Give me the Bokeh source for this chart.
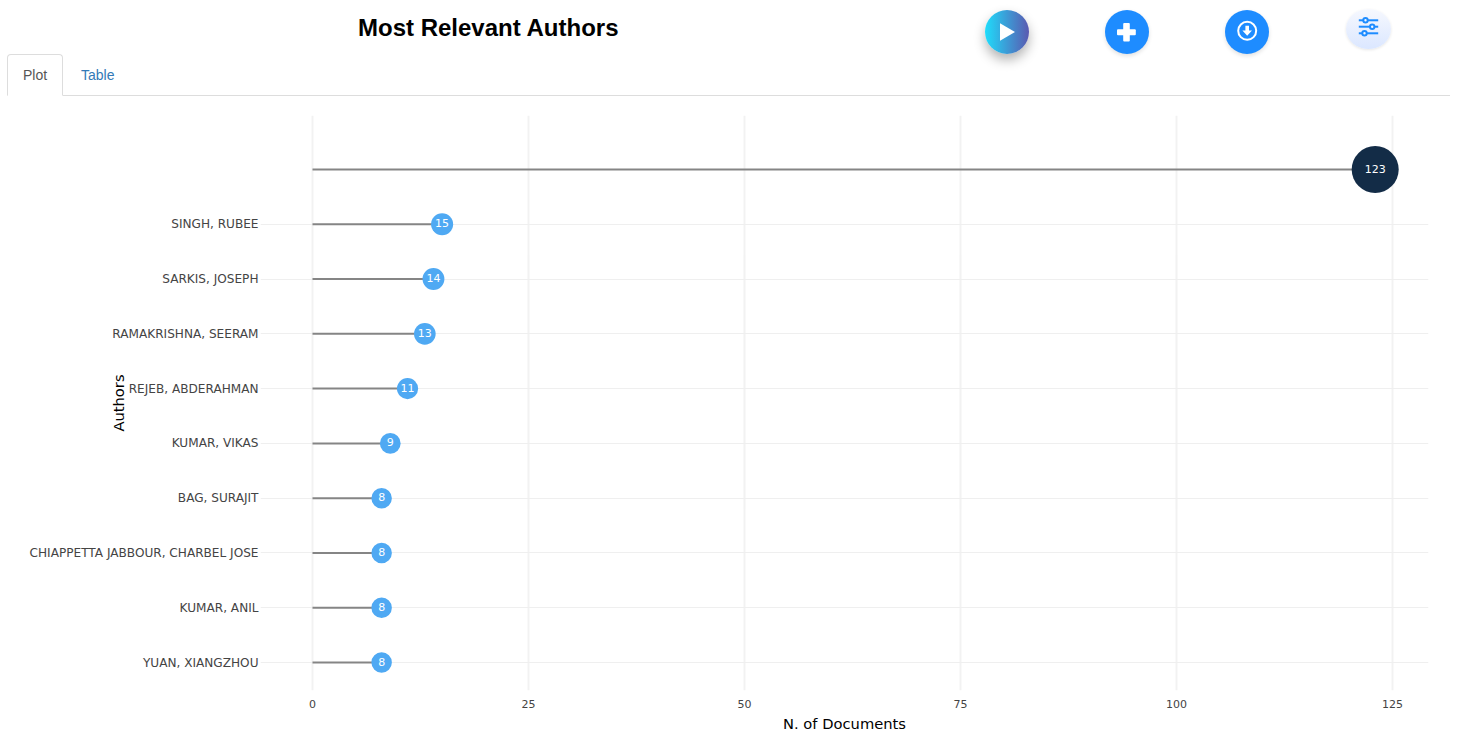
from bokeh.plotting import figure
from bokeh.layouts import column
from bokeh.models import ColumnDataSource, Div, FixedTicker, Range1d
from bokeh.core.properties import value
from bokeh.embed import file_html
from bokeh.resources import INLINE

# ---------- data ----------
authors = ["", "SINGH, RUBEE", "SARKIS, JOSEPH", "RAMAKRISHNA, SEERAM", "REJEB, ABDERAHMAN",
           "KUMAR, VIKAS", "BAG, SURAJIT", "CHIAPPETTA JABBOUR, CHARBEL JOSE", "KUMAR, ANIL", "YUAN, XIANGZHOU"]
documents = [123, 15, 14, 13, 11, 9, 8, 8, 8, 8]
x_ticks = [0, 25, 50, 75, 100, 125]

title_text = "Most Relevant Authors"
tab_labels = ["Plot", "Table"]
x_title = "N. of Documents"
y_title = "Authors"


# ---------- header (title, tabs, buttons) ----------
def btn(cx, cy, w, h, bg, shadow, icon):
    return (f'<div style="position:absolute;left:{cx - w / 2}px;top:{cy - h / 2}px;width:{w}px;height:{h}px;'
            f'border-radius:50%;background:{bg};box-shadow:{shadow};">'
            f'<svg width="{w}" height="{h}" viewBox="0 0 {w} {h}" style="display:block">{icon}</svg></div>')


play = '<path d="M15 13.3 L30 22 L15 30.7 Z" fill="#fff"/>'
plus = ('<rect x="18.2" y="13" width="6.6" height="18.5" rx="1" fill="#fff"/>'
        '<rect x="12" y="19.3" width="18.8" height="6" rx="1" fill="#fff"/>')
down = ('<circle cx="22.2" cy="20.8" r="9" fill="none" stroke="#fff" stroke-width="2"/>'
        '<path d="M20.4 15.8 h3.6 v4.6 h3 L22.2 25.8 L17.4 20.4 h3 Z" fill="#fff"/>')
sliders = ('<g stroke="#1e8cff" stroke-width="2" fill="#f4f7ff">'
           '<line x1="12.8" y1="11.3" x2="32.2" y2="11.3"/><line x1="12.8" y1="17.7" x2="32.2" y2="17.7"/>'
           '<line x1="12.8" y1="24.3" x2="32.2" y2="24.3"/>'
           '<circle cx="19.5" cy="11.3" r="2.2"/><circle cx="26.2" cy="17.7" r="2.2"/><circle cx="18.5" cy="24.3" r="2.2"/></g>')

header_html = f'''
<div style="position:relative;width:1450px;height:100px;font-family:'Liberation Sans',Helvetica,Arial,sans-serif;">
  <div style="position:absolute;left:358px;top:13px;font-size:24px;font-weight:bold;color:#000;line-height:30px;white-space:nowrap;">{title_text}</div>
  <div style="position:absolute;left:7px;top:95px;width:1443px;height:1px;background:#dddddd;"></div>
  <div style="position:absolute;left:7px;top:54px;width:56px;height:42px;box-sizing:border-box;border:1px solid #dddddd;border-bottom:1px solid #fff;border-radius:4px 4px 0 0;background:#fff;"></div>
  <div style="position:absolute;left:23px;top:65px;font-size:14px;line-height:20px;color:#555555;">{tab_labels[0]}</div>
  <div style="position:absolute;left:81px;top:65px;font-size:14px;line-height:20px;color:#337ab7;">{tab_labels[1]}</div>
  {btn(1007, 32, 44, 44, "linear-gradient(90deg,#1fdcfb,#5a59b0)", "0 6px 12px rgba(0,0,0,0.30)", play)}
  {btn(1127, 32, 44, 44, "#1e8cff", "0 2px 4px rgba(0,0,0,0.12)", plus)}
  {btn(1247, 32, 44, 44, "#1e8cff", "0 2px 4px rgba(0,0,0,0.12)", down)}
  {btn(1368, 29, 45, 40, "linear-gradient(180deg,#f6f8fe,#dbe7ff)", "0 1px 3px rgba(0,0,0,0.10)", sliders)}
</div>'''
header = Div(text=header_html, width=1450, height=100, margin=(0, 0, 0, 0))

# ---------- chart ----------
positions = list(range(len(authors) - 1, -1, -1))
big = max(documents)
sizes = [20.5 + (v - 8) * 26.5 / (big - 8) for v in documents]
fills = ["#132c47" if v == big else "#4fa9f3" for v in documents]

src = ColumnDataSource(dict(y=positions, x=documents, x0=[0] * len(documents), s=sizes, c=fills,
                            t=[str(v) for v in documents]))

p = figure(width=1450, height=640, output_backend="svg", toolbar_location=None,
           x_range=Range1d(-6.02, 129.17), y_range=Range1d(-0.511, 9.986),
           min_border_left=260, min_border_right=22, min_border_top=15, min_border_bottom=50,
           background_fill_color="#ffffff", outline_line_color=None, margin=(0, 0, 0, 0))

p.segment("x0", "y", "x", "y", source=src, line_color="#858585", line_width=2)
p.scatter("x", "y", size="s", fill_color="c", line_color="c", line_width=0, source=src)
p.text("x", "y", text="t", source=src, text_color="#ffffff", text_font=value("DejaVu Sans"),
       text_font_size="11px", text_align="center", text_baseline="middle", y_offset=-1)

fam = "DejaVu Sans"
p.xaxis.ticker = FixedTicker(ticks=x_ticks)
p.yaxis.ticker = FixedTicker(ticks=positions)
p.yaxis.major_label_overrides = {pos: a for pos, a in zip(positions, authors)}
for ax in (p.xaxis[0], p.yaxis[0]):
    ax.axis_line_color = None
    ax.major_tick_line_color = None
    ax.minor_tick_line_color = None
    ax.major_tick_out = 0
    ax.major_tick_in = 0
    ax.minor_tick_out = 0
    ax.minor_tick_in = 0
    ax.major_label_text_font = fam
    ax.major_label_text_color = "#444444"
    ax.axis_label_text_font = fam
    ax.axis_label_text_font_size = "14.7px"
    ax.axis_label_text_font_style = "normal"
    ax.axis_label_text_color = "#000000"
p.xaxis.major_label_text_font_size = "11px"
p.yaxis.major_label_text_font_size = "12.1px"
p.xaxis.axis_label = x_title
p.yaxis.axis_label = y_title
p.yaxis.major_label_standoff = 2
p.xaxis.major_label_standoff = 9
p.xaxis.axis_label_standoff = 4
p.yaxis.axis_label_standoff = -100

p.xgrid.ticker = FixedTicker(ticks=x_ticks)
p.ygrid.ticker = FixedTicker(ticks=positions[1:])
p.xgrid.grid_line_color = "#f2f2f2"
p.xgrid.grid_line_width = 2
p.ygrid.grid_line_color = "#efefef"
p.ygrid.grid_line_width = 1

page = column(header, p, spacing=0, margin=(0, 0, 0, 0))
open("out.html", "w").write(file_html(page, INLINE))
